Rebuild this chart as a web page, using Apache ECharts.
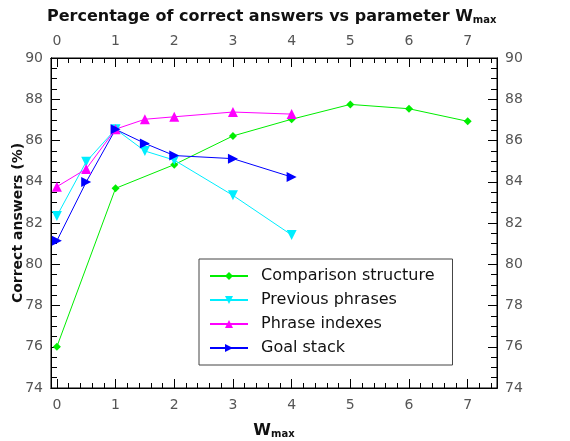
<!DOCTYPE html>
<html>
<head>
<meta charset="utf-8">
<script src="https://cdn.jsdelivr.net/npm/echarts@6/dist/echarts.min.js"></script>
<style>
  html, body { margin: 0; padding: 0; background: #fff; }
  #main { width: 570px; height: 441px; }
</style>
</head>
<body>
<div id="main"></div>
<script>
// data
var xTicks = [0, 1, 2, 3, 4, 5, 6, 7];
var xMinorTicks = [0.2, 0.4, 0.6, 0.8, 1.2, 1.4, 1.6, 1.8, 2.2, 2.4, 2.6, 2.8, 3.2, 3.4, 3.6, 3.8,
  4.2, 4.4, 4.6, 4.8, 5.2, 5.4, 5.6, 5.8, 6.2, 6.4, 6.6, 6.8, 7.2, 7.4];
var yMinorTicks = [74.5, 75, 75.5, 76.5, 77, 77.5, 78.5, 79, 79.5, 80.5, 81, 81.5, 82.5, 83, 83.5,
  84.5, 85, 85.5, 86.5, 87, 87.5, 88.5, 89, 89.5];

var comparisonX = [0, 1, 2, 3, 4, 5, 6, 7];
var comparisonY = [76.0, 83.68, 84.83, 86.22, 87.03, 87.75, 87.54, 86.93];

var shortX = [0, 0.5, 1, 1.5, 2, 3, 4];
var previousY = [82.34, 84.97, 86.55, 85.49, 85.05, 83.34, 81.42];
var phraseIdxY = [83.76, 84.62, 86.55, 87.03, 87.15, 87.38, 87.28];
var goalY = [81.14, 83.99, 86.54, 85.86, 85.27, 85.12, 84.23];

function pairs(xs, ys) {
  return xs.map(function (x, i) { return [x, ys[i]]; });
}

var chart = echarts.init(document.getElementById('main'), null, { renderer: 'canvas' });

var labelStyle = { color: '#555', fontSize: 14, fontFamily: 'DejaVu Sans' };
var subRich = {
  w: { fontSize: 16, fontWeight: 'bold', color: '#111', fontFamily: 'DejaVu Sans' },
  s: { fontSize: 10, fontWeight: 'bold', color: '#111', fontFamily: 'DejaVu Sans', padding: [7, 0, 0, 0] }
};

function xAxis(pos, showLabels, ticks, len) {
  return {
    type: 'value', position: pos, min: -0.1, max: 7.5,
    name: showLabels && pos === 'bottom' ? '{w|W}{s|max}' : '',
    nameLocation: 'middle', nameGap: 34, nameMoveOverlap: false,
    nameTextStyle: { rich: subRich },
    axisLine: { show: true, onZero: false, lineStyle: { color: '#000', width: 1 } },
    axisTick: { show: true, inside: true, length: len, customValues: ticks, lineStyle: { color: '#000' } },
    axisLabel: showLabels ? Object.assign({ customValues: xTicks, margin: 10 }, labelStyle) : { show: false },
    splitLine: { show: false }
  };
}

function yAxis(pos, major) {
  var ax = {
    type: 'value', position: pos, min: 74, max: 90,
    axisLine: { show: true, onZero: false, lineStyle: { color: '#000', width: 1 } },
    splitLine: { show: false }
  };
  if (major) {
    ax.interval = 2;
    ax.name = pos === 'left' ? 'Correct answers (%)' : '';
    ax.nameLocation = 'middle';
    ax.nameGap = 26;
    ax.nameMoveOverlap = false;
    ax.nameTextStyle = { fontSize: 14, fontWeight: 'bold', color: '#111', fontFamily: 'DejaVu Sans' };
    ax.axisTick = { show: true, inside: true, length: 9, lineStyle: { color: '#000' } };
    ax.axisLabel = Object.assign({ margin: 8 }, labelStyle);
  } else {
    ax.axisTick = { show: true, inside: true, length: 6, customValues: yMinorTicks, lineStyle: { color: '#000' } };
    ax.axisLabel = { show: false };
  }
  return ax;
}

function lineSeries(name, data, color, symbol, rotate) {
  return {
    name: name, type: 'line', data: data,
    xAxisIndex: 0, yAxisIndex: 0,
    symbol: symbol, symbolSize: symbol === 'diamond' ? 8 : 10, symbolRotate: rotate,
    showAllSymbol: true,
    itemStyle: { color: color },
    lineStyle: { color: color, width: 1 },
    animation: false
  };
}

var option = {
  backgroundColor: '#ffffff',
  title: {
    text: 'Percentage of correct answers vs parameter {w|W}{s|max}',
    left: 42, top: 3,
    textStyle: { fontSize: 16, fontWeight: 'bold', color: '#111', fontFamily: 'DejaVu Sans', rich: subRich }
  },
  grid: {
    left: 51, right: 73, top: 58, bottom: 53,
    containLabel: false, outerBoundsMode: 'none',
    show: true, borderColor: '#000', borderWidth: 1
  },
  legend: {
    orient: 'vertical', left: 199, top: 259,
    width: 253, height: 108,
    padding: [9, 18, 9, 10],
    backgroundColor: '#fff',
    borderColor: '#444', borderWidth: 1,
    itemWidth: 38, itemHeight: 10, itemGap: 8,
    textStyle: { fontSize: 16, color: '#111', fontFamily: 'DejaVu Sans', padding: [0, 0, 0, 8] },
    data: ['Comparison structure', 'Previous phrases', 'Phrase indexes', 'Goal stack']
  },
  xAxis: [
    xAxis('bottom', true, xTicks, 9),
    xAxis('top', true, xTicks, 9),
    xAxis('bottom', false, xMinorTicks, 5),
    xAxis('top', false, xMinorTicks, 5)
  ],
  yAxis: [yAxis('left', true), yAxis('right', true), yAxis('left', false), yAxis('right', false)],
  series: [
    lineSeries('Comparison structure', pairs(comparisonX, comparisonY), '#00ee00', 'diamond', 0),
    lineSeries('Previous phrases', pairs(shortX, previousY), '#00eeff', 'triangle', 180),
    lineSeries('Phrase indexes', pairs(shortX, phraseIdxY), '#ff00ff', 'triangle', 0),
    lineSeries('Goal stack', pairs(shortX, goalY), '#0000ff', 'triangle', -90)
  ]
};

chart.setOption(option);
</script>
</body>
</html>
